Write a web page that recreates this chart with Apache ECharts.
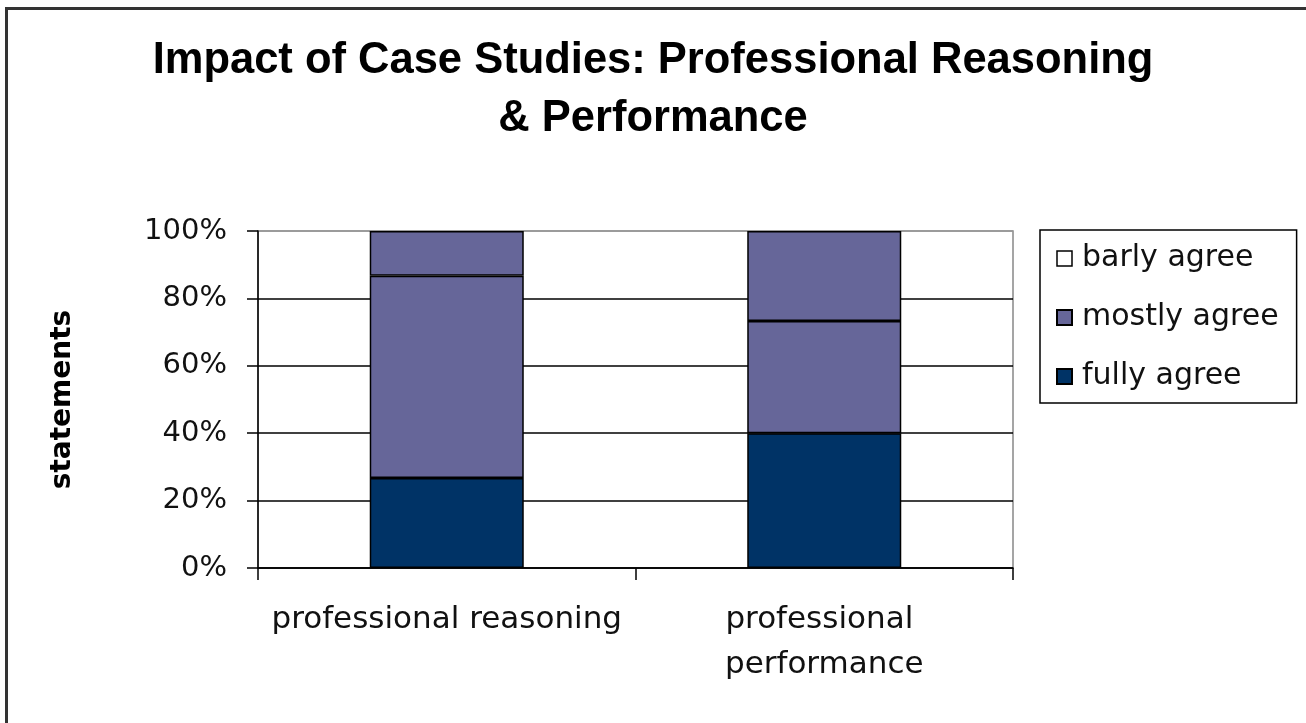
<!DOCTYPE html>
<html>
<head>
<meta charset="utf-8">
<script src="https://cdn.jsdelivr.net/npm/echarts@6/dist/echarts.min.js"></script>
<style>
html,body{margin:0;padding:0;background:#fff;}
#chart{width:1306px;height:723px;}
</style>
</head>
<body>
<div id="chart"></div>
<script>
const titleText = 'Impact of Case Studies: Professional Reasoning\n& Performance';
const categories = ['professional reasoning', 'professional performance'];
const fullyAgree = [26.7, 40.0];
const mostlyAgree = [60.0, 33.3];
const barlyAgree = [13.3, 26.7];
const yTicks = [0, 20, 40, 60, 80, 100];
const yAxisName = 'statements';

const NAVY = '#003366', PURPLE = '#666699';
const chart = echarts.init(document.getElementById('chart'), null, {renderer: 'canvas'});
const barCommon = {
  type: 'bar', stack: 'total', barWidth: '40.8%',
  emphasis: {disabled: true}
};
chart.setOption({
  animation: false,
  backgroundColor: '#fff',
  title: {
    text: titleText, left: 'center', top: 32, padding: 0,
    textStyle: {fontFamily: 'Liberation Sans, Arial', fontWeight: 'bold', fontSize: 43.5, lineHeight: 58, color: '#000'}
  },
  graphic: [{
    type: 'rect', shape: {x: 6.5, y: 8.5, width: 1400, height: 800},
    style: {fill: 'none', stroke: '#333', lineWidth: 3}, silent: true, z: 100
  }],
  legend: {
    orient: 'vertical', left: 1040, top: 230,
    backgroundColor: '#fff', borderColor: '#000', borderWidth: 1.5,
    padding: [13, 18, 11, 16], itemWidth: 15, itemHeight: 15, itemGap: 28,
    icon: 'rect',
    textStyle: {fontFamily: 'DejaVu Sans', fontSize: 30, lineHeight: 31, color: '#111', padding: [0, 0, 0, 5]},
    data: [
      {name: 'barly agree', itemStyle: {color: '#fff', borderColor: '#000', borderWidth: 1.5}},
      {name: 'mostly agree'},
      {name: 'fully agree'}
    ],
    selectedMode: false
  },
  grid: {left: 258, right: 293, top: 231, bottom: 155, show: true, borderColor: '#888', borderWidth: 1.5, containLabel: false},
  xAxis: {
    type: 'category', data: categories,
    axisLine: {lineStyle: {color: '#000', width: 1.5}},
    axisTick: {show: true, length: 12, interval: 0, lineStyle: {color: '#000', width: 1.5}},
    axisLabel: {
      interval: 0, margin: 29, width: 370, overflow: 'break',
      fontFamily: 'DejaVu Sans', fontSize: 31, lineHeight: 45, color: '#111'
    }
  },
  yAxis: {
    type: 'value', min: yTicks[0], max: yTicks[yTicks.length - 1], interval: 20,
    name: yAxisName, nameLocation: 'middle', nameRotate: 90, nameGap: 181,
    nameTextStyle: {fontFamily: 'DejaVu Sans', fontWeight: 'bold', fontSize: 28, color: '#000'},
    axisLine: {show: true, lineStyle: {color: '#000', width: 1.5}},
    axisTick: {show: true, length: 11, lineStyle: {color: '#000', width: 1.5}},
    axisLabel: {formatter: '{value}%', margin: 31, fontFamily: 'DejaVu Sans', fontSize: 29, color: '#111'},
    splitLine: {show: true, lineStyle: {color: ['#000', '#000', '#000', '#000', '#000', '#999'], width: 1.5}}
  },
  series: [
    Object.assign({}, barCommon, {name: 'fully agree', data: fullyAgree, itemStyle: {color: NAVY, borderColor: '#000', borderWidth: 1.5}}),
    Object.assign({}, barCommon, {name: 'mostly agree', data: mostlyAgree, itemStyle: {color: PURPLE, borderColor: '#000', borderWidth: 1.5}}),
    Object.assign({}, barCommon, {name: 'barly agree', data: barlyAgree, itemStyle: {color: PURPLE, borderColor: '#000', borderWidth: 1.5}})
  ]
});
</script>
</body>
</html>
